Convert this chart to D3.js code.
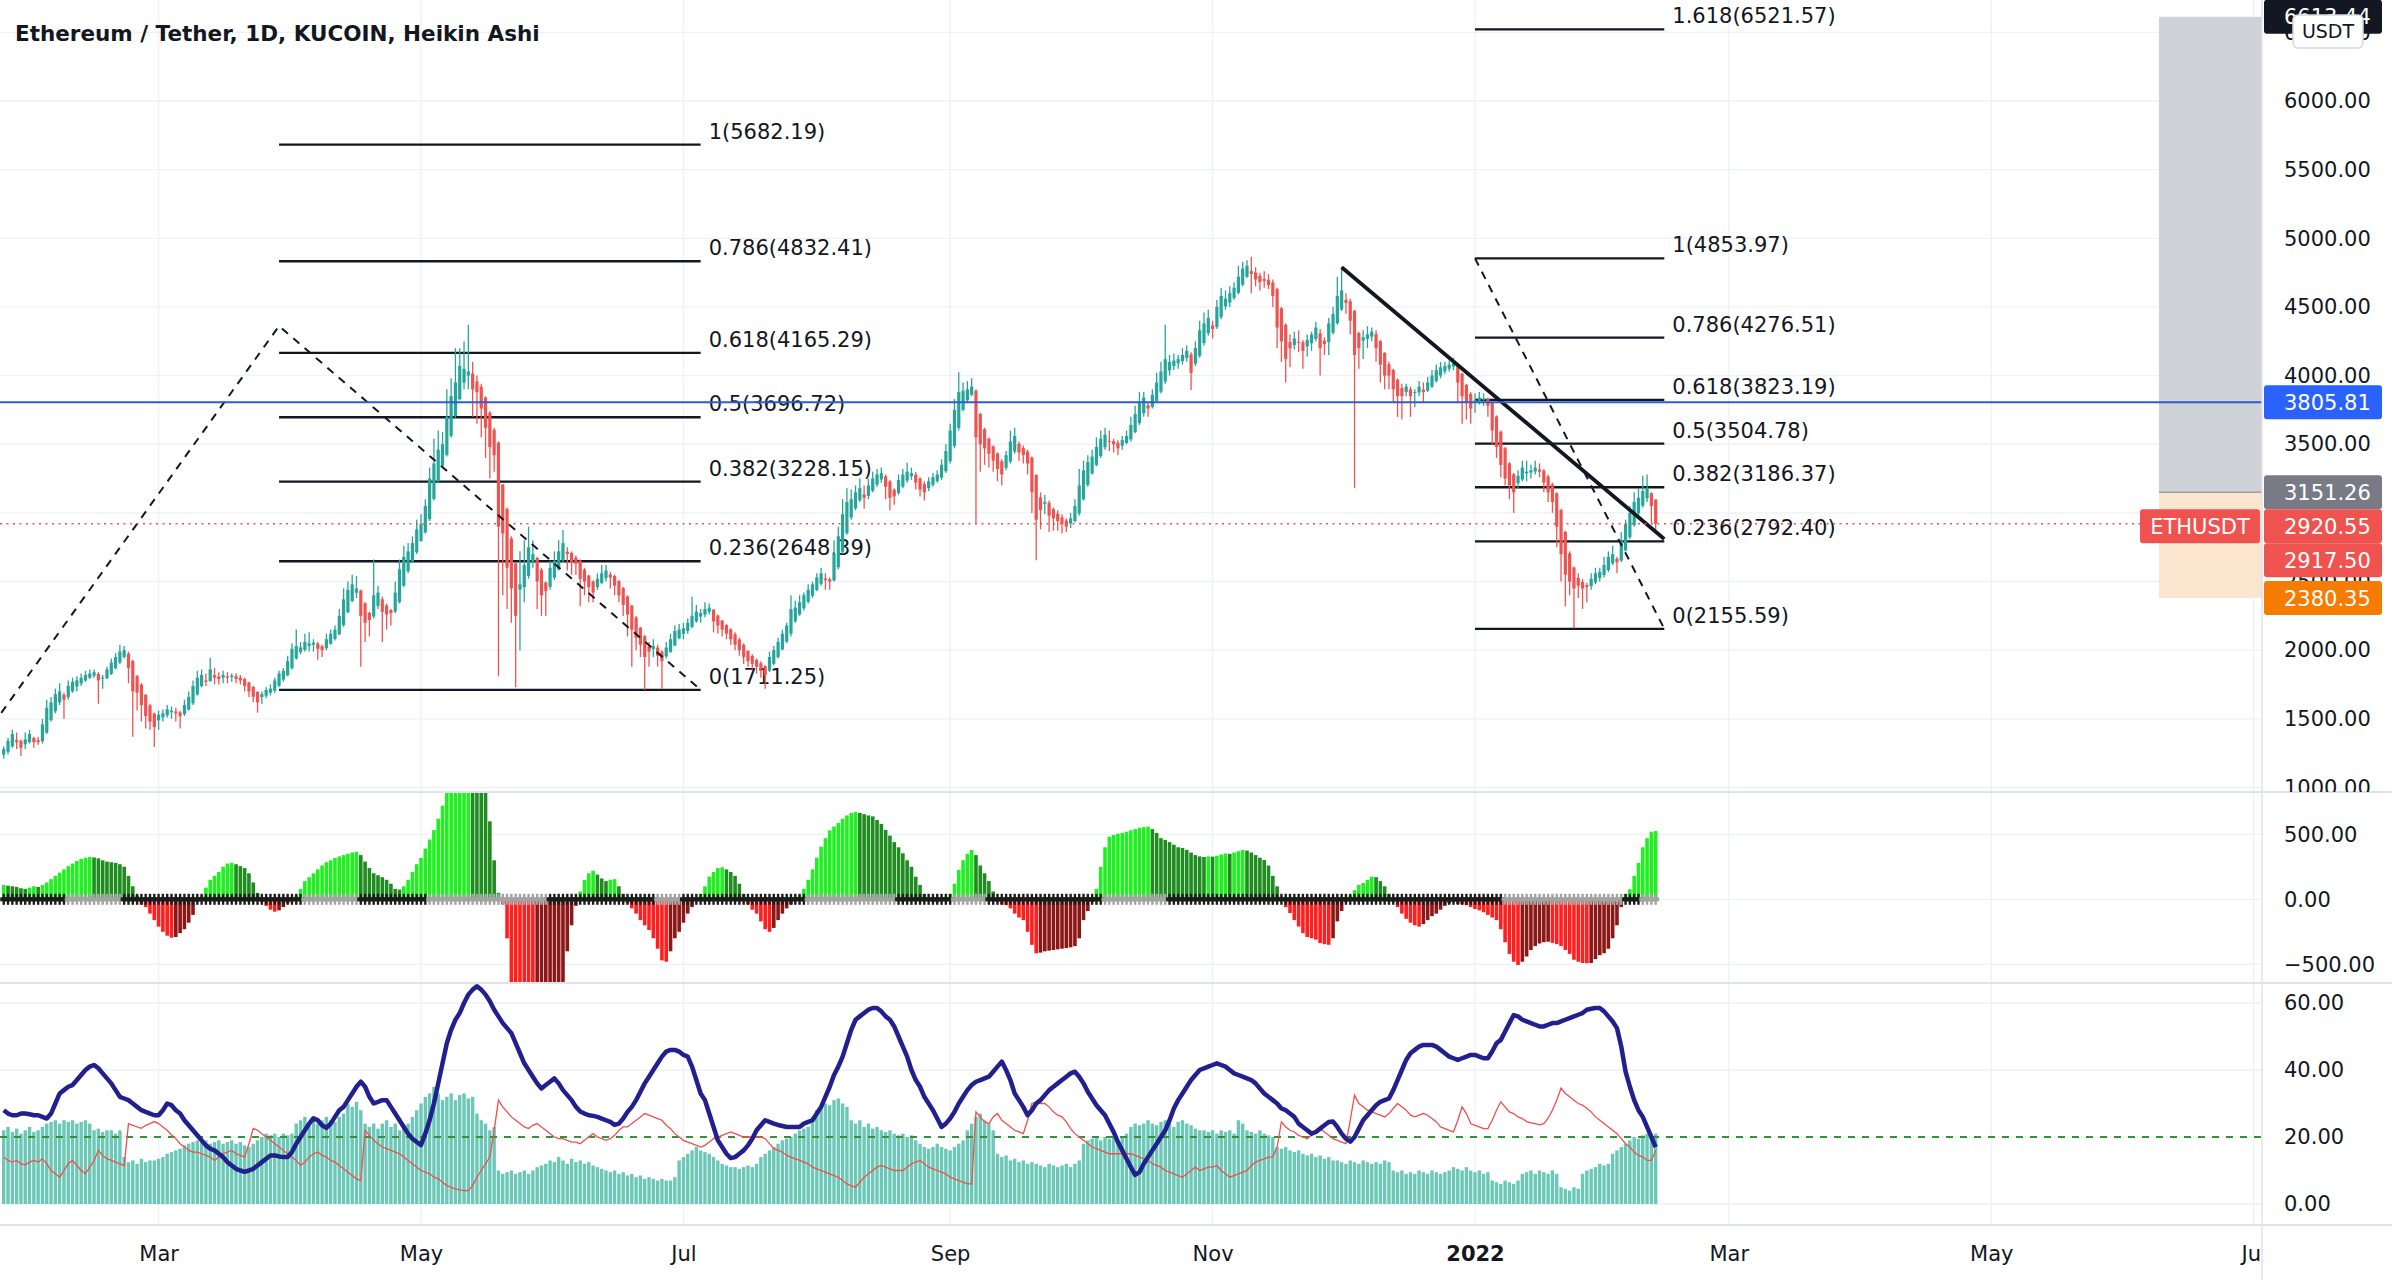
<!DOCTYPE html>
<html>
<head>
<meta charset="utf-8">
<title>ETHUSDT 1D Heikin Ashi</title>
<script src="https://cdn.jsdelivr.net/npm/d3@7/dist/d3.min.js"></script>
<style>
  html, body { margin: 0; padding: 0; background: #fff; }
  svg { display: block; }
  text { font-family: "DejaVu Sans", sans-serif; }
</style>
</head>
<body>
<svg id="chart" width="2392" height="1280"></svg>
<script>
/* values, one entry per day from firstDay */
var firstDay = '2021-01-24';

// Heikin Ashi candles: [open, high, low, close]
var heikinAshi = [
[1240,1300,1210,1280],[1260,1360,1240,1340],[1300,1420,1290,1390],[1345,1400,1280,1330],[1340,1350,1230,1290],[1315,1400,1280,1350],[1330,1420,1320,1390],[1360,1370,1290,1330],[1345,1370,1310,1330],[1338,1500,1320,1460],
[1400,1640,1390,1580],[1490,1660,1480,1620],[1555,1720,1540,1680],[1620,1760,1600,1700],[1675,1690,1500,1640],[1658,1780,1640,1740],[1700,1800,1690,1770],[1735,1810,1700,1780],[1758,1830,1740,1800],[1779,1850,1770,1820],
[1800,1860,1790,1830],[1815,1860,1800,1840],[1828,1840,1610,1780],[1792,1820,1720,1800],[1796,1880,1790,1860],[1828,1940,1820,1910],[1869,1980,1860,1950],[1910,2040,1900,1990],[1950,2030,1940,2000],[1975,1990,1760,1870],
[1922,1930,1370,1700],[1811,1820,1560,1690],[1750,1760,1480,1600],[1675,1680,1430,1520],[1598,1610,1420,1480],[1539,1545,1295,1440],[1490,1560,1420,1530],[1510,1570,1480,1540],[1525,1600,1510,1570],[1548,1590,1500,1560],
[1554,1580,1480,1540],[1547,1560,1430,1520],[1534,1640,1520,1600],[1567,1700,1560,1660],[1614,1780,1600,1740],[1677,1850,1670,1800],[1739,1860,1730,1820],[1780,1830,1740,1770],[1775,1945,1770,1860],[1818,1870,1750,1800],
[1809,1840,1750,1790],[1800,1850,1760,1820],[1810,1840,1760,1800],[1805,1830,1770,1815],[1810,1830,1760,1790],[1800,1820,1750,1780],[1790,1800,1700,1740],[1765,1770,1660,1700],[1732,1740,1620,1660],[1696,1700,1545,1620],
[1658,1700,1610,1680],[1669,1730,1650,1710],[1690,1750,1670,1720],[1705,1800,1690,1780],[1742,1850,1730,1830],[1786,1870,1770,1850],[1818,1960,1810,1920],[1869,2050,1860,2010],[1940,2150,1930,2030],[1985,2060,1970,2020],
[2002,2120,1990,2060],[2031,2130,1990,2050],[2040,2080,1990,2055],[2048,2060,1930,2010],[2029,2040,1950,2000],[2014,2120,2000,2080],[2047,2150,2040,2120],[2083,2180,2070,2150],[2116,2300,2110,2250],[2183,2450,2170,2370],
[2276,2500,2270,2440],[2358,2550,2350,2480],[2419,2540,2380,2450],[2435,2440,1880,2250],[2342,2350,2060,2200],[2271,2280,2100,2220],[2245,2660,2230,2400],[2322,2470,2300,2420],[2371,2390,2060,2280],[2325,2340,2150,2260],
[2292,2300,2180,2270],[2281,2500,2270,2420],[2350,2660,2340,2590],[2470,2760,2460,2680],[2575,2780,2560,2720],[2647,2830,2640,2780],[2713,2950,2700,2880],[2796,2990,2790,2920],[2858,3100,2850,3050],[2954,3330,2940,3250],
[3102,3540,3090,3360],[3231,3600,3220,3460],[3345,3590,3330,3500],[3423,3900,3410,3700],[3561,3980,3550,3850],[3706,4200,3690,3950],[3828,4200,3820,4070],[3949,4250,3900,4050],[4000,4370,3900,4030],[4015,4100,3700,3900],
[3958,4000,3650,3880],[3919,3940,3550,3760],[3840,3850,3400,3620],[3730,3740,3250,3480],[3605,3620,3300,3420],[3513,3520,1810,2900],[3206,3210,2400,2850],[3028,3040,2300,2600],[2814,2830,2200,2450],[2632,2640,1730,2250],
[2441,2720,2000,2480],[2460,2800,2350,2620],[2540,2900,2520,2750],[2645,2800,2600,2700],[2672,2680,2300,2500],[2586,2600,2250,2400],[2493,2500,2250,2430],[2461,2650,2440,2600],[2530,2720,2510,2650],[2590,2800,2580,2720],
[2655,2875,2640,2780],[2717,2750,2580,2700],[2708,2720,2550,2640],[2674,2690,2550,2630],[2652,2660,2320,2520],[2586,2600,2400,2500],[2543,2550,2350,2460],[2501,2510,2350,2420],[2460,2560,2440,2520],[2490,2620,2480,2560],
[2525,2620,2500,2580],[2552,2570,2450,2530],[2541,2550,2400,2470],[2505,2510,2350,2400],[2452,2460,2250,2330],[2391,2400,2100,2260],[2325,2330,1880,2150],[2238,2250,2000,2090],[2164,2170,1950,2040],[2102,2110,1710,1950],
[2026,2060,1880,1990],[2008,2080,1950,2030],[2019,2040,1880,1960],[1990,2000,1720,1920],[1955,2060,1940,2020],[1988,2120,1980,2080],[2034,2180,2030,2140],[2087,2190,2080,2150],[2119,2200,2080,2160],[2140,2230,2120,2200],
[2170,2390,2160,2250],[2210,2330,2200,2280],[2245,2300,2200,2270],[2258,2350,2240,2300],[2279,2340,2260,2310],[2295,2300,2130,2210],[2252,2260,2120,2180],[2216,2220,2100,2150],[2183,2190,2080,2120],[2152,2160,2040,2080],
[2116,2130,2000,2040],[2078,2090,1960,2000],[2039,2050,1900,1950],[1995,2000,1880,1920],[1958,1970,1860,1900],[1929,1940,1830,1880],[1905,1920,1800,1860],[1883,1890,1720,1820],[1851,1990,1840,1950],[1900,2030,1890,2000],
[1950,2090,1940,2060],[2005,2150,2000,2120],[2062,2200,2050,2180],[2121,2400,2100,2300],[2210,2360,2200,2310],[2260,2400,2250,2350],[2305,2420,2290,2400],[2352,2480,2340,2440],[2396,2500,2380,2480],[2438,2560,2430,2530],
[2484,2600,2470,2560],[2522,2560,2440,2510],[2516,2530,2440,2500],[2508,2800,2500,2700],[2604,2900,2590,2830],[2717,3100,2700,2990],[2853,3180,2840,3080],[2967,3170,2950,3100],[3033,3200,3020,3150],[3092,3250,3080,3180],
[3136,3200,3030,3110],[3123,3250,3100,3200],[3161,3300,3150,3250],[3205,3320,3190,3280],[3243,3330,3220,3290],[3266,3280,3100,3190],[3228,3240,3020,3110],[3169,3180,3060,3120],[3145,3280,3130,3240],[3192,3320,3180,3280],
[3236,3365,3220,3300],[3268,3330,3240,3290],[3279,3300,3170,3220],[3250,3260,3120,3170],[3210,3230,3090,3150],[3180,3260,3160,3230],[3205,3290,3190,3260],[3232,3310,3220,3280],[3256,3390,3240,3350],[3303,3500,3290,3450],
[3376,3650,3360,3600],[3488,3830,3470,3750],[3619,4025,3600,3880],[3750,3950,3740,3890],[3820,3960,3810,3900],[3860,3980,3850,3920],[3890,3900,2925,3550],[3720,3730,3300,3500],[3610,3620,3350,3470],[3540,3550,3330,3430],
[3485,3490,3300,3380],[3433,3440,3230,3320],[3376,3390,3200,3280],[3328,3450,3310,3420],[3374,3600,3360,3520],[3447,3620,3430,3560],[3503,3520,3380,3440],[3472,3490,3360,3420],[3446,3460,3280,3360],[3403,3410,3000,3150],
[3277,3280,2655,2950],[3113,3150,2880,3020],[3067,3130,2990,3080],[3074,3090,2860,2980],[3027,3040,2870,2960],[2994,3020,2870,2940],[2967,2990,2850,2920],[2944,2960,2860,2900],[2922,3000,2890,2960],[2941,3100,2930,3050],
[2996,3320,2980,3200],[3098,3380,3090,3310],[3204,3420,3190,3370],[3287,3460,3280,3410],[3349,3550,3340,3480],[3415,3600,3400,3540],[3478,3620,3460,3570],[3524,3600,3450,3520],[3522,3540,3440,3500],[3511,3530,3420,3470],
[3490,3560,3460,3530],[3510,3600,3500,3560],[3535,3700,3520,3640],[3588,3780,3580,3720],[3654,3880,3640,3800],[3727,3880,3700,3840],[3784,3800,3700,3760],[3772,3900,3760,3860],[3816,4020,3800,3950],[3883,4100,3870,4030],
[3956,4370,3940,4120],[4038,4150,4000,4100],[4069,4160,4040,4110],[4090,4150,4050,4120],[4105,4200,4080,4150],[4128,4220,4100,4180],[4154,4170,3895,4020],[4087,4250,4070,4200],[4144,4400,4130,4330],[4237,4460,4220,4380],
[4309,4480,4290,4420],[4365,4400,4270,4340],[4353,4550,4340,4500],[4427,4640,4410,4580],[4504,4620,4480,4560],[4532,4650,4500,4600],[4566,4680,4550,4640],[4603,4800,4590,4720],[4662,4830,4650,4780],[4721,4840,4710,4800],
[4761,4865,4600,4740],[4751,4790,4650,4700],[4726,4750,4620,4680],[4703,4760,4640,4690],[4697,4740,4630,4660],[4679,4700,4500,4580],[4630,4640,4200,4350],[4490,4500,4100,4250],[4370,4380,3950,4120],[4245,4300,4060,4200],
[4223,4320,4190,4270],[4246,4330,4170,4240],[4243,4260,4050,4180],[4212,4300,4140,4260],[4236,4320,4180,4300],[4268,4390,4250,4350],[4309,4340,4000,4200],[4255,4280,4150,4230],[4243,4420,4150,4380],[4312,4500,4300,4450],
[4381,4720,4370,4580],[4481,4790,4470,4620],[4551,4600,4450,4530],[4541,4560,4300,4400],[4470,4480,3180,4150],[4310,4320,4050,4200],[4255,4330,4120,4280],[4267,4360,4200,4300],[4284,4350,4250,4320],[4302,4330,4100,4200],
[4251,4260,3950,4080],[4166,4170,3900,4000],[4083,4100,3900,4000],[4041,4050,3800,3900],[3970,3980,3700,3850],[3910,3940,3680,3850],[3880,3940,3850,3920],[3900,3920,3700,3850],[3875,3900,3770,3880],[3877,3960,3850,3920],
[3899,3950,3800,3880],[3890,3990,3880,3950],[3920,4040,3910,4000],[3960,4080,3950,4040],[4000,4100,3980,4060],[4030,4100,4010,4070],[4050,4110,4030,4080],[4065,4130,4040,4090],[4077,4080,3800,3950],[4014,4020,3650,3850],
[3932,3940,3680,3800],[3866,3880,3650,3760],[3813,3870,3730,3820],[3816,3880,3790,3840],[3828,3870,3780,3830],[3829,3840,3700,3780],[3805,3810,3500,3600],[3703,3710,3400,3480],[3592,3600,3260,3350],[3471,3480,3200,3250],
[3361,3370,3100,3200],[3281,3290,3000,3150],[3216,3310,3180,3270],[3243,3380,3230,3330],[3287,3380,3230,3300],[3294,3350,3250,3310],[3302,3380,3280,3330],[3316,3360,3260,3300],[3308,3320,3150,3220],[3264,3280,3080,3150],
[3207,3220,3000,3080],[3143,3150,2750,2900],[3021,3030,2500,2700],[2861,2870,2320,2550],[2705,2720,2400,2500],[2603,2610,2160,2450],[2526,2560,2380,2470],[2498,2520,2300,2450],[2474,2490,2350,2460],[2467,2560,2440,2520],
[2493,2600,2480,2560],[2526,2600,2500,2570],[2548,2680,2530,2620],[2584,2720,2570,2680],[2632,2760,2620,2700],[2666,2680,2560,2640],[2653,2860,2640,2800],[2726,2950,2720,2920],[2823,3050,2810,3000],[2911,3150,2900,3080],
[2996,3180,2980,3110],[3053,3270,3040,3160],[3106,3280,3080,3180],[3143,3150,2920,3050],[3097,3100,2880,2920]
];

// squeeze momentum histogram
var momentum = [
110,105,100,95,85,80,90,100,95,
110,130,155,180,205,230,255,275,295,310,320,325,
322,315,300,290,285,280,270,250,180,100,30,
-40,-60,-110,-160,-210,-250,-280,-295,-290,-260,-230,-180,-120,-20,
30,90,150,180,210,250,275,280,270,255,240,200,130,50,
-20,-50,-80,-95,-85,-60,-30,-5,
30,80,140,170,200,230,260,285,300,318,330,340,350,360,366,340,290,240,200,185,170,150,120,80,
75,100,150,210,270,318,390,460,533,620,720,830,900,980,1050,1100,1120,1100,1050,980,850,600,300,50,
-40,-300,-640,-700,-760,-830,-880,-900,-890,-870,-840,-800,-760,-720,-690,-400,-200,-50,
60,150,200,220,190,160,140,150,155,100,40,
-30,-70,-110,-160,-200,-236,-300,-380,-470,-480,-400,-300,-250,-180,-110,-60,-10,
40,100,174,210,240,246,230,210,180,120,40,
-40,-80,-110,-170,-230,-250,-220,-160,-110,-70,-40,-10,
30,80,150,230,320,405,470,530,560,587,620,645,665,671,665,655,645,638,610,580,533,490,440,400,354,300,250,174,110,40,
-10,-20,-25,-15,-5,
40,120,225,300,350,379,340,260,200,140,60,
-20,-40,-45,-70,-110,-140,-160,-250,-350,-415,-410,-400,-395,-390,-385,-380,-375,-370,-360,-300,-160,-90,-20,
80,250,400,482,495,505,510,520,530,540,550,555,559,540,510,470,456,440,420,400,395,380,360,340,330,
325,330,328,335,345,353,350,360,370,379,375,360,340,320,302,260,180,100,20,
-60,-106,-160,-210,-260,-290,-300,-310,-337,-345,-350,-300,-170,-90,-20,
30,70,110,125,150,174,170,140,100,40,
-20,-60,-110,-150,-180,-200,-210,-190,-160,-130,-110,-80,-50,-30,-20,
-35,-40,-45,-60,-75,-85,-100,-120,-140,-160,-230,-330,-420,-480,-505,-480,-440,-390,-360,-340,-330,-326,-335,-345,-360,-390,-420,-465,-480,-490,-492,-490,-460,-430,-415,-380,-300,-200,-60,
40,77,180,280,400,470,520,525
];

// squeeze dots on the zero line: [days, 1 = squeeze on (black), 0 = off (gray)]
var squeezeRuns = [[15,1],[13,0],[42,1],[13,0],[16,1],[28,0],[25,1],[6,0],[29,1],[21,0],[13,1],[8,0],[27,1],[15,0],[78,1],[28,0],[4,1],[4,0]];

// lower pane: thick ADX line, thin red line, teal columns
var adxLine = [
28,27,26.5,26.5,27,27,26.8,26.5,26.5,26,25.5,
27,30,33,34,35,35.5,37,38.5,40,41,41.5,
40.5,39,37.5,36,34,32,31.5,31,30,29,
28,27.5,27,26.5,26.5,28,30,29.5,28,27,25,23.5,22,
20.5,19,17.5,16.5,16,15,14,12.5,11.5,10.5,10,9.6,
10,10.5,11.5,12.5,13.5,14.5,14.5,14.2,14,14,15.5,18,20,
22,24,25.6,25,23.5,22.7,24,26,28,29,
31,33,35,36.5,35,32,30,30.5,31,31,29,
27,25,23,21,19.5,18.5,17.6,
21,25,30,36,42,48,52,55,57,60,62.5,64,65,
64,62.5,60.5,58,56,54,52.5,51,48,45,42,
40,38,36,34.5,35.5,36.5,37.5,36,34,32.5,31,29,27.6,
27,26.5,26.3,26,25.5,25,24.5,23.6,24,25.5,27.5,29,
31,33.5,36,38,40,42,44,45.5,46,46,45.5,44.5,44,
41,37,33,31,27,23,19,17,15,13.7,14,15,16,
17.5,19.5,22,23.5,25,24.5,24,23.6,23.3,23,23,23,23,
24,24.5,25,27,29,32,35,38.5,41,44,48,52,55,56,57,58,58.5,58.5,
57.5,56,55,53,50,47,44,40,37,35,32,30,28,25.5,23,
24,25.5,27.5,30,32,34,35.5,36.5,37,37.5,38,39.5,41,42.5,
40,37,33,31,29,26.5,28,30,31,32.5,34,35,36,
37,38,39,39.5,38,36,33.5,31.5,29.5,28,26.5,
24,21.5,18.5,16,13.5,11,8.7,9.5,12,14,16,
18,20,22,25,28.5,31,33,35,37,38.5,40,
40.5,41,41.5,42,41.5,41,40,39,38.5,38,37.5,37,
36,34.5,33,32,31,30,28.5,28,27,26,24,23,22,21,
21.5,22.5,23.5,24.5,24.6,23,21,19.5,18.6,20,22.5,25,
26.5,28,29.5,30.5,31,31.5,34,37,40,43,45,
46,47,47.5,47.5,47.5,47,46,45,44,43.5,43,43.5,44,44.5,44.5,44,43.5,43.5,45.5,48,
49,51.5,54,56.4,56,55,54.5,54,53.5,53,53,53.5,54,
54,54.5,55,55.5,56,56.5,57,58,58.3,58.5,58.5,57.5,
56,54.5,52.5,47,39.5,35,31,28,26,23,20,17
];

var redLine = [
14,13,12.5,13,12,11.7,12.5,13,12.5,13.5,
12,10,9,8,10,12,13,11.5,10,9,
11,13,16,14.5,13.5,13,12.5,12,11.5,24,
23.5,23,22.6,23.5,24,24.6,24,23,22,20.6,
19.5,18,17,16,15.5,15.5,15,14.5,14,13,
14,15,15.5,16,15,14.5,14,18,22.6,22,
21,20,19,18,17,16,15,14,13,11.5,
12.5,14,15,15.5,14.5,14,13,12.5,11.5,10.5,
9.5,8.5,7.5,7,22,20.5,19,18,17,16.5,
16,15.5,15,14,13,12,11,10,9.5,9,
8,7.5,6.5,5.5,5,4.5,4.2,4,4,5.5,
8,10,12,14,22,31,29,27.5,26,25,
24,23,22.5,23.5,24,23,22,21,20,19.5,
19.5,19,18.5,18.5,18,19,20,21,20,19.5,
19,19.5,20.5,22,23,23,24,25,26,27,
26.5,26,25.5,25,23.5,22.5,21,20,19,18.5,
18,17.5,17,17.5,18.5,19.5,20,20.5,21,21.5,
21,20.5,20,20,20,20,20,19.5,18,16.5,
16,15.5,14.5,14,13.5,13,12.5,12,11,10.5,
10,9.5,9,8.5,8,7,6,5.5,5,6.5,
8,9,10,11,11.5,11,10.5,10,10,10,
11,12,12.5,13,12,11,10.5,10,9.5,9,
8,7.5,7,6.5,6,6,27.5,26,24.5,24,
26,27,25,24,23,22,21.5,21,25,30,
30.5,30,30,29,27.5,26.5,26,24.5,22.5,21,
20,19,18,17,16.5,16,15.5,15,15,15,
15,15,15,14.5,14,13.5,13,12,11.5,11,
10,9.5,9,8.5,8,9,10,11,10,10.5,
11,11,11.5,10,9,8,8.5,9,9.5,10,
11.5,12.5,13,13.5,14,14,17,24.5,23,22,
21.5,20.5,20,19.5,20.5,21.5,22.5,21.5,20.5,19.5,
19,18.5,18,25,32.5,30,29,28,27.5,27,
26.5,26,27,28.5,30,29,28,26.5,26,26.5,
27,26.5,25.5,24.5,23,22.5,22,21.5,25,29,
27,24,23.5,23,22.5,22.5,25,28,30.5,29,
27.5,27,26,25.5,24.6,24.2,24,23.6,24,25.6,
28,31,34.6,33,32,31,30,29.5,28.6,27.5,
26,25,24,23,22,21,19.5,18,17,15.5,
14.5,14,13,13,16
];

var tealBars = [
22,23,21.5,22.5,21,22,23,21.5,22,23,
24,24.5,25,24,25,24.5,25,24,24.5,25,24,
22,22.5,21.5,22,22,21,22,14,
12.5,13,12,13.5,12.5,13,
13,13.5,14,15,15.5,16,16.5,17.5,18,18.5,19,
18.5,19,18,18.5,19,18,18.5,19,18,18.5,17.5,
17,18,19,20,21,20.5,21,20,21,20.5,21,
24,25,26,24.5,25.5,24,25,26,25,24.5,26,27,
30,29,30.5,28,24,
23,24,22.5,24,25,23,24,22,23.5,24,26,
28,30,32,33,35,33,31,
32,33,31,32.5,33,31.5,32,
27,25,24,22,23,10,
9,9.5,10,9,9.5,10,9,10,11,
11.5,12,13,12.5,14,13,12,13.5,12.5,13,12,12.5,11.5,11,
10.5,10,9.5,10,9,9.5,8.5,9,8,8.5,7.5,8,
7.5,7,7.5,7,7,8,
13,14,15,16,17,16,15.5,15,14,13,
12,11.5,11,11,10.5,11,11.5,11,12,
14,15,16,17,18,19,19.5,20,21,22,22.5,23,26,
28,29,30,29.5,31,31.5,30,29,
25,24,25,23,24,22.5,23,22,21.5,22,21,20.5,21,20,20.5,19,
18,17,16.5,17,18,17,16.5,16,17,18,19,
22,24,26,27,25,24,22,
15,14,14.5,13,13.5,12.5,13,12,12.5,12,11.5,
11,12,11.5,11,11.5,12,11,12,13,
18,19,19.5,20,19,20,19.5,20,19,20,21,
23,24,23.5,24,25,24,23.5,24.5,25,24,23,24.5,25,24,23.5,22.5,22,
22,21.5,22,21,22,21.5,22,21,25,24,22,21.5,21,22,21,20.5,20,
17,16.5,17,16,15.5,16,15,14.5,15,14,14.5,13.5,14,13,
13,12.5,12,13,12.5,12,13,12.5,12,12.5,12,13,12.5,
10,9.5,10,9,9.5,9,10,9.5,9,10,9.5,9,9.5,
10,11,10.5,10,11,10,9.5,10,9,9.5,
7,6.5,6,7,6.5,6,7,
9,9.5,10,9,10,9.5,9,10,9,
5,4.5,4,5,4.5,
9,10,10.5,11,12,11.5,12,
15,16,17,18,19,20,19.5,20.5,21,20,21
];

var monthTicks = ['2021-03-01','2021-05-01','2021-07-01','2021-09-01','2021-11-01','2022-01-01','2022-03-01','2022-05-01','2022-07-01'];
var monthLabels = ['Mar','May','Jul','Sep','Nov','2022','Mar','May','Jul'];
var priceTicks = [1000,1500,2000,2500,3000,3500,4000,4500,5000,5500,6000,6500];
var momTicks = [-500,0,500];
var adxTicks = [0,20,40,60];

// drawings
var fibLeftLevels = [1, 0.786, 0.618, 0.5, 0.382, 0.236, 0];
var fibLeftPrices = [5682.19, 4832.41, 4165.29, 3696.72, 3228.15, 2648.39, 1711.25];
var fibLeftPoints = [['2020-12-28', 390.31], ['2021-03-29', 4361.25], ['2021-07-05', 1711.25]];
var fibRightLevels = [1.618, 1, 0.786, 0.618, 0.5, 0.382, 0.236, 0];
var fibRightPrices = [6521.57, 4853.97, 4276.51, 3823.19, 3504.78, 3186.37, 2792.40, 2155.59];
var fibRightPoints = [['2022-01-01', 4853.97], ['2022-02-14', 2155.59]];
var trendPoints = [['2021-12-01', 4789], ['2022-02-14', 2810]];
var horizontalLine = 3805.81;
var lastPrice = 2920.55, lastClose = 2917.50;
var position = { start: '2022-06-09', target: 6613.44, entry: 3151.26, stop: 2380.35 };


var W = 2392, H = 1280, plotR = 2262;
var priceBottom = 792, momBottom = 983, adxBottom = 1225;
var up = '#26a69a', down = '#ef5350', ink = '#131722';

function day(s) { return new Date(s + 'T00:00:00Z'); }
var t0 = day(firstDay).getTime();
function nth(i) { return new Date(t0 + i * 864e5); }

var x = d3.scaleUtc().domain([day('2021-03-01'), day('2022-01-01')]).range([158.6, 1475]);
var yPrice = d3.scaleLinear().domain([1000, 6000]).range([787.5, 101]);
var yMom = d3.scaleLinear().domain([-500, 500]).range([964.3, 834.3]);
var yAdx = d3.scaleLinear().domain([0, 60]).range([1204, 1003]);
var step = x(nth(1)) - x(nth(0));
function cx(d, i) { return x(nth(i)); }

var svg = d3.select('#chart');
var defs = svg.append('defs');
function clipRect(id, x0, y0, w, h) {
    defs.append('clipPath').attr('id', id).append('rect')
        .attr('x', x0).attr('y', y0).attr('width', w).attr('height', h);
    return 'url(#' + id + ')';
}
var priceClip = clipRect('cPrice', 0, 0, plotR, priceBottom);
var momClip = clipRect('cMom', 0, priceBottom, plotR, momBottom - priceBottom);
var adxClip = clipRect('cAdx', 0, momBottom, plotR, adxBottom - momBottom);
var paxClip = clipRect('cPax', plotR, 0, W - plotR, priceBottom);
var taxClip = clipRect('cTax', 0, adxBottom, plotR, H - adxBottom);

svg.append('rect').attr('width', W).attr('height', H).attr('fill', '#fff');

/* grid */
var grid = svg.append('g').attr('stroke', '#eef1f6').attr('stroke-width', 1.3);
grid.selectAll('line.gx').data(monthTicks).enter().append('line')
    .attr('x1', function(d) { return x(day(d)); })
    .attr('x2', function(d) { return x(day(d)); })
    .attr('y1', 0).attr('y2', adxBottom);
function hgrid(ticks, y, top, bottom) {
    grid.selectAll(null)
        .data(ticks.filter(function(v) { return y(v) > top && y(v) < bottom; }))
        .enter().append('line')
        .attr('x1', 0).attr('x2', plotR)
        .attr('y1', function(d) { return y(d); })
        .attr('y2', function(d) { return y(d); });
}
hgrid(priceTicks, yPrice, 0, priceBottom);
hgrid(momTicks, yMom, priceBottom, momBottom);
hgrid(adxTicks, yAdx, momBottom, adxBottom);

/* long position box on the far right */
var pos = svg.append('g').attr('clip-path', priceClip);
var px0 = x(day(position.start));
pos.append('rect').attr('x', px0).attr('width', plotR - px0)
    .attr('y', yPrice(position.target))
    .attr('height', yPrice(position.entry) - yPrice(position.target))
    .attr('fill', '#cfd2d7');
pos.append('rect').attr('x', px0).attr('width', plotR - px0)
    .attr('y', yPrice(position.entry))
    .attr('height', yPrice(position.stop) - yPrice(position.entry))
    .attr('fill', '#fde6cf');
pos.append('line').attr('x1', px0).attr('x2', plotR)
    .attr('y1', yPrice(position.entry)).attr('y2', yPrice(position.entry))
    .attr('stroke', '#9a9da6').attr('stroke-width', 1.5);

/* fib retracements */
function drawFib(levels, prices, from, to) {
    var g = svg.append('g').attr('clip-path', priceClip);
    var x1 = x(day(from)), x2 = x(day(to));
    g.selectAll('line').data(prices).enter().append('line')
        .attr('x1', x1).attr('x2', x2)
        .attr('y1', function(d) { return yPrice(d); })
        .attr('y2', function(d) { return yPrice(d); })
        .attr('stroke', ink).attr('stroke-width', 2.4);
    g.selectAll('text').data(prices).enter().append('text')
        .attr('x', x2 + 8)
        .attr('y', function(d) { return yPrice(d) - 6; })
        .attr('font-size', 21).attr('fill', ink)
        .text(function(d, i) { return levels[i] + '(' + d.toFixed(2) + ')'; });
}
drawFib(fibLeftLevels, fibLeftPrices, fibLeftPoints[1][0], fibLeftPoints[2][0]);
drawFib(fibRightLevels, fibRightPrices, fibRightPoints[0][0], fibRightPoints[1][0]);

/* candles */
var candles = svg.append('g').attr('clip-path', priceClip)
    .selectAll('g').data(heikinAshi).enter().append('g')
    .attr('fill', function(d) { return d[3] >= d[0] ? up : down; })
    .attr('stroke', function(d) { return d[3] >= d[0] ? up : down; });
candles.append('line')
    .attr('x1', cx).attr('x2', cx)
    .attr('y1', function(d) { return yPrice(d[1]); })
    .attr('y2', function(d) { return yPrice(d[2]); })
    .attr('stroke-width', 1.3);
candles.append('rect')
    .attr('x', function(d, i) { return cx(d, i) - 1.6; })
    .attr('width', 3.2)
    .attr('y', function(d) { return yPrice(Math.max(d[0], d[3])); })
    .attr('height', function(d) { return Math.max(1, Math.abs(yPrice(d[0]) - yPrice(d[3]))); })
    .attr('stroke', 'none');

/* lines on the price pane */
var draw = svg.append('g').attr('clip-path', priceClip).attr('fill', 'none');
var pline = d3.line()
    .x(function(d) { return x(day(d[0])); })
    .y(function(d) { return yPrice(d[1]); });
draw.append('path').attr('d', pline(fibLeftPoints))
    .attr('stroke', ink).attr('stroke-width', 2).attr('stroke-dasharray', '8,7');
draw.append('path').attr('d', pline(fibRightPoints))
    .attr('stroke', ink).attr('stroke-width', 2).attr('stroke-dasharray', '8,7');
draw.append('path').attr('d', pline(trendPoints))
    .attr('stroke', ink).attr('stroke-width', 3.8);
draw.append('line').attr('x1', 0).attr('x2', plotR)
    .attr('y1', yPrice(horizontalLine)).attr('y2', yPrice(horizontalLine))
    .attr('stroke', '#2f5bd3').attr('stroke-width', 2);
draw.append('line').attr('x1', 0).attr('x2', plotR)
    .attr('y1', yPrice(lastPrice)).attr('y2', yPrice(lastPrice))
    .attr('stroke', down).attr('stroke-width', 1.4).attr('stroke-dasharray', '2,4.5');

/* squeeze momentum */
function momColor(v, prev) {
    if (v >= 0) return v > prev ? '#1ff01f' : '#1f8c1f';
    return v < prev ? '#ff1f1f' : '#8c1717';
}
var mg = svg.append('g').attr('clip-path', momClip);
mg.selectAll('rect').data(momentum).enter().append('rect')
    .attr('x', function(d, i) { return cx(d, i) - step / 2 + 0.35; })
    .attr('width', step - 0.7)
    .attr('y', function(d) { return Math.min(yMom(0), yMom(d)); })
    .attr('height', function(d) { return Math.abs(yMom(d) - yMom(0)); })
    .attr('fill', function(d, i) { return momColor(d, i ? momentum[i - 1] : 0); });

var squeezeOn = [];
squeezeRuns.forEach(function(r) {
    for (var k = 0; k < r[0]; k++) squeezeOn.push(r[1]);
});
var dots = mg.append('g').selectAll('g').data(squeezeOn).enter().append('g')
    .attr('fill', function(d) { return d ? '#1c1c1c' : '#a3a3a3'; });
dots.append('rect')
    .attr('x', function(d, i) { return cx(d, i) - 3.5; })
    .attr('y', yMom(0) - 2).attr('width', 7).attr('height', 4);
dots.append('rect')
    .attr('x', function(d, i) { return cx(d, i) - 1.2; })
    .attr('y', yMom(0) - 5.5).attr('width', 2.4).attr('height', 11);

/* ADX pane */
var ag = svg.append('g').attr('clip-path', adxClip);
ag.selectAll('rect').data(tealBars).enter().append('rect')
    .attr('x', function(d, i) { return cx(d, i) - step / 2 + 0.45; })
    .attr('width', step - 0.9)
    .attr('y', function(d) { return yAdx(d); })
    .attr('height', function(d) { return yAdx(0) - yAdx(d); })
    .attr('fill', '#6bc8b7');
ag.append('line').attr('x1', 0).attr('x2', plotR)
    .attr('y1', yAdx(20)).attr('y2', yAdx(20))
    .attr('stroke', '#3a8f3e').attr('stroke-width', 2).attr('stroke-dasharray', '7,7');
var aline = d3.line().x(cx).y(function(d) { return yAdx(d); });
ag.append('path').attr('d', aline(redLine))
    .attr('fill', 'none').attr('stroke', '#f04f4c').attr('stroke-width', 1.3);
ag.append('path').attr('d', aline(adxLine))
    .attr('fill', 'none').attr('stroke', '#221f8e').attr('stroke-width', 4.5)
    .attr('stroke-linejoin', 'round');

/* pane borders */
var borders = svg.append('g').attr('stroke', '#e0e3eb').attr('stroke-width', 2);
[priceBottom, momBottom, adxBottom].forEach(function(y) {
    borders.append('line').attr('x1', 0).attr('x2', W).attr('y1', y).attr('y2', y);
});
borders.append('line').attr('x1', plotR).attr('x2', plotR).attr('y1', 0).attr('y2', H)
    .attr('stroke-width', 1.5);

/* price badges on the axis, stacked so they never overlap */
var badgeList = [
    [position.target, ink], [horizontalLine, '#2962ff'], [position.entry, '#787b86'],
    [lastPrice, down], [lastClose, down], [position.stop, '#f57c00']
];
var lastBottom = -Infinity;
badgeList.forEach(function(b) {
    b.y = Math.max(yPrice(b[0]), lastBottom + 17);
    lastBottom = b.y + 17;
});
function covered(y) {
    // a tick label is dropped only when a badge hides all of it
    return badgeList.some(function(b) { return y - 8 >= b.y - 17 && y + 8 <= b.y + 17; }) ||
        (y > badgeList[2].y && y < badgeList[5].y - 17);
}

/* value axes */
function valueAxis(scale, ticks, clip) {
    var g = svg.append('g').attr('clip-path', clip)
        .append('g').attr('transform', 'translate(' + plotR + ',0)')
        .call(d3.axisRight(scale).tickValues(ticks).tickFormat(d3.format('.2f')).tickSize(0).tickPadding(22));
    g.select('.domain').remove();
    g.attr('font-size', 21).attr('font-family', '"DejaVu Sans", sans-serif').attr('color', ink);
    return g;
}
valueAxis(yPrice, priceTicks.filter(function(v) { return !covered(yPrice(v)); }), paxClip);
valueAxis(yMom, momTicks, null);
valueAxis(yAdx, adxTicks, null);

var badges = svg.append('g').attr('font-size', 21);
badgeList.forEach(function(b) {
    badges.append('rect').attr('x', plotR + 2).attr('y', b.y - 17)
        .attr('width', 118).attr('height', 34).attr('rx', 3).attr('fill', b[1]);
    badges.append('text').attr('x', plotR + 22).attr('y', b.y).attr('dy', '0.36em')
        .attr('fill', '#fff').text(b[0].toFixed(2));
});
var yLast = badgeList[3].y;
badges.append('rect').attr('x', plotR - 122).attr('y', yLast - 17)
    .attr('width', 120).attr('height', 34).attr('rx', 3).attr('fill', down);
badges.append('text').attr('x', plotR - 62).attr('y', yLast).attr('dy', '0.36em')
    .attr('text-anchor', 'middle').attr('fill', '#fff').text('ETHUSDT');

badges.append('rect').attr('x', 2293).attr('y', 15).attr('width', 70).attr('height', 33)
    .attr('rx', 5).attr('fill', '#fff').attr('stroke', '#d6d8de').attr('stroke-width', 1.5);
badges.append('text').attr('x', 2328).attr('y', 31.5).attr('dy', '0.36em')
    .attr('text-anchor', 'middle').attr('font-size', 19).attr('fill', ink).text('USDT');

/* time axis */
var tg = svg.append('g').attr('clip-path', taxClip)
    .append('g').attr('transform', 'translate(0,' + adxBottom + ')')
    .call(d3.axisBottom(x).tickValues(monthTicks.map(day)).tickSize(0).tickPadding(21)
        .tickFormat(function(d, i) { return monthLabels[i]; }));
tg.select('.domain').remove();
tg.attr('font-size', 21).attr('font-family', '"DejaVu Sans", sans-serif').attr('color', ink);
tg.selectAll('text').filter(function(d, i) { return monthLabels[i] === '2022'; })
    .attr('font-weight', 'bold');

/* title */
svg.append('text').attr('x', 15).attr('y', 41)
    .attr('font-family', '"Open Sans", sans-serif').attr('font-weight', 600)
    .attr('font-size', 21.5).attr('fill', ink)
    .text('Ethereum / Tether, 1D, KUCOIN, Heikin Ashi');
</script>
</body>
</html>
